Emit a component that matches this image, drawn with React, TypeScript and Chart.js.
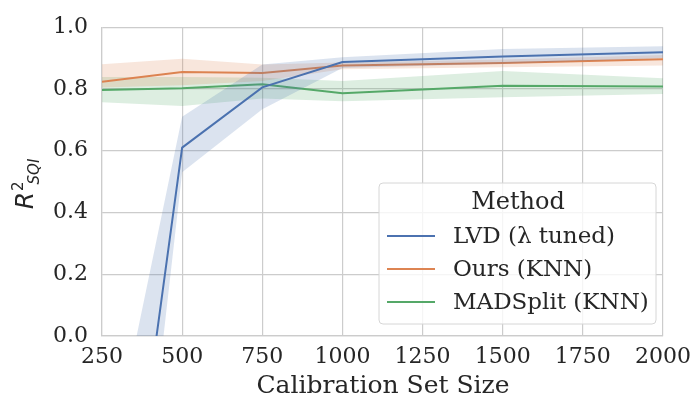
import React, { useEffect, useRef } from "react";
import { Chart, registerables } from "chart.js";

Chart.register(...registerables);

const xValues = [250, 500, 750, 1000, 1500, 2000];
const xTicks = [250, 500, 750, 1000, 1250, 1500, 1750, 2000];
const yTicks = [0, 0.2, 0.4, 0.6, 0.8, 1.0];

const seriesLabels = ["LVD (λ tuned)", "Ours (KNN)", "MADSplit (KNN)"];
const seriesColors = ["#4C72B0", "#DD8452", "#55A868"];

const lvdMean = [-1.3, 0.61, 0.805, 0.887, 0.905, 0.919];
const lvdLow = [-1.75, 0.53, 0.734, 0.868, 0.882, 0.9];
const lvdHigh = [-0.54, 0.71, 0.879, 0.903, 0.929, 0.938];

const oursMean = [0.823, 0.855, 0.852, 0.876, 0.884, 0.896];
const oursLow = [0.805, 0.812, 0.826, 0.864, 0.87, 0.876];
const oursHigh = [0.88, 0.898, 0.879, 0.886, 0.895, 0.91];

const madMean = [0.797, 0.802, 0.815, 0.786, 0.81, 0.808];
const madLow = [0.757, 0.745, 0.769, 0.76, 0.773, 0.784];
const madHigh = [0.839, 0.839, 0.836, 0.826, 0.858, 0.835];

const means = [lvdMean, oursMean, madMean];
const lows = [lvdLow, oursLow, madLow];
const highs = [lvdHigh, oursHigh, madHigh];

const FONT = "'DejaVu Serif', serif";
const TEXT = "#262626";
const GRID = "#cccccc";

function hexA(hex: string, a: number) {
  const r = parseInt(hex.slice(1, 3), 16);
  const g = parseInt(hex.slice(3, 5), 16);
  const b = parseInt(hex.slice(5, 7), 16);
  return `rgba(${r},${g},${b},${a})`;
}

const pts = (ys: number[]) => xValues.map((x, i) => ({ x, y: ys[i] }));

const titlesPlugin = {
  id: "titles",
  afterDraw(chart: any) {
    const ctx = chart.ctx as CanvasRenderingContext2D;
    const ca = chart.chartArea;
    // x title
    ctx.save();
    ctx.fillStyle = TEXT;
    ctx.font = `25px ${FONT}`;
    ctx.textAlign = "center";
    ctx.textBaseline = "alphabetic";
    ctx.fillText("Calibration Set Size", (ca.left + ca.right) / 2 + 0.5, 393);
    ctx.restore();

    // y title R^2_SQI
    ctx.save();
    ctx.translate(33, 184);
    ctx.rotate(-Math.PI / 2);
    ctx.fillStyle = TEXT;
    ctx.textBaseline = "alphabetic";
    ctx.textAlign = "left";
    const bigFont = "italic 25px 'DejaVu Sans', sans-serif";
    const smallFont = "15px 'DejaVu Sans', sans-serif";
    const smallItalic = "italic 15px 'DejaVu Sans', sans-serif";
    ctx.font = bigFont;
    const wR = ctx.measureText("R").width;
    ctx.font = smallFont;
    const w2 = ctx.measureText("2").width;
    ctx.font = smallItalic;
    const wS = ctx.measureText("SQI").width;
    const total = wR + w2 + wS - 2;
    let x = -total / 2;
    ctx.font = bigFont;
    ctx.fillText("R", x, 0);
    x += wR + 1;
    ctx.font = smallFont;
    ctx.fillText("2", x, -10);
    x += w2 - 3;
    ctx.font = smallItalic;
    ctx.fillText("SQI", x, 6);
    ctx.restore();

    // legend
    const lx = 379, ly = 183, lw = 277, lh = 141, r = 4;
    ctx.save();
    ctx.beginPath();
    ctx.moveTo(lx + r, ly);
    ctx.lineTo(lx + lw - r, ly);
    ctx.quadraticCurveTo(lx + lw, ly, lx + lw, ly + r);
    ctx.lineTo(lx + lw, ly + lh - r);
    ctx.quadraticCurveTo(lx + lw, ly + lh, lx + lw - r, ly + lh);
    ctx.lineTo(lx + r, ly + lh);
    ctx.quadraticCurveTo(lx, ly + lh, lx, ly + lh - r);
    ctx.lineTo(lx, ly + r);
    ctx.quadraticCurveTo(lx, ly, lx + r, ly);
    ctx.closePath();
    ctx.fillStyle = "rgba(255,255,255,0.8)";
    ctx.fill();
    ctx.strokeStyle = "#d6d6d6";
    ctx.lineWidth = 1;
    ctx.stroke();

    ctx.fillStyle = TEXT;
    ctx.font = `24px ${FONT}`;
    ctx.textAlign = "center";
    ctx.textBaseline = "middle";
    ctx.fillText("Method", 518, 203);
    ctx.textAlign = "left";
    ctx.font = `23px ${FONT}`;
    const rowsY = [237, 270, 303];
    seriesLabels.forEach((lab, i) => {
      ctx.strokeStyle = seriesColors[i];
      ctx.lineWidth = 2;
      ctx.beginPath();
      ctx.moveTo(387, rowsY[i] - 1);
      ctx.lineTo(435, rowsY[i] - 1);
      ctx.stroke();
      ctx.fillStyle = TEXT;
      ctx.fillText(lab, 453, rowsY[i]);
    });
    ctx.restore();
  },
};

export default function App() {
  const ref = useRef<HTMLCanvasElement | null>(null);
  useEffect(() => {
    document.body.style.margin = "0";
    const datasets: any[] = [];
    for (let i = 0; i < 3; i++) {
      const base = datasets.length;
      datasets.push({
        label: seriesLabels[i] + " low",
        data: pts(lows[i]),
        borderWidth: 0,
        pointRadius: 0,
        fill: false,
        borderColor: "rgba(0,0,0,0)",
      });
      datasets.push({
        label: seriesLabels[i] + " high",
        data: pts(highs[i]),
        borderWidth: 0,
        pointRadius: 0,
        borderColor: "rgba(0,0,0,0)",
        backgroundColor: hexA(seriesColors[i], 0.2),
        fill: { target: base },
      });
      datasets.push({
        label: seriesLabels[i],
        data: pts(means[i]),
        borderColor: seriesColors[i],
        borderWidth: 2,
        pointRadius: 0,
        fill: false,
        tension: 0,
      });
    }
    const chart = new Chart(ref.current as HTMLCanvasElement, {
      type: "line",
      data: { datasets },
      options: {
        responsive: false,
        animation: false,
        layout: { padding: { left: 0, top: 20, right: 31, bottom: 0 } },
        plugins: { legend: { display: false }, tooltip: { enabled: false } },
        scales: {
          x: {
            type: "linear",
            min: 250,
            max: 2000,
            afterFit: (s: any) => {
              s.height = 64;
            },
            afterBuildTicks: (s: any) => {
              s.ticks = xTicks.map((v) => ({ value: v }));
            },
            ticks: {
              color: TEXT,
              font: { family: "DejaVu Serif", size: 22 },
              padding: 8,
              maxRotation: 0,
              autoSkip: false,
              callback: (v: any) => String(v),
            },
            grid: { color: GRID, lineWidth: 1.2, drawTicks: false },
            border: { color: GRID, width: 1.2 },
          },
          y: {
            type: "linear",
            min: 0,
            max: 1,
            afterFit: (s: any) => {
              s.width = 102;
            },
            afterBuildTicks: (s: any) => {
              s.ticks = yTicks.map((v) => ({ value: v }));
            },
            ticks: {
              color: TEXT,
              font: { family: "DejaVu Serif", size: 22 },
              padding: 14,
              autoSkip: false,
              callback: (v: any) => Number(v).toFixed(1),
            },
            grid: { color: GRID, lineWidth: 1.2, drawTicks: false },
            border: { color: GRID, width: 1.2 },
          },
        },
      },
      plugins: [titlesPlugin],
    });
    return () => chart.destroy();
  }, []);
  return <canvas ref={ref} width={699} height={400} style={{ display: "block" }} />;
}
